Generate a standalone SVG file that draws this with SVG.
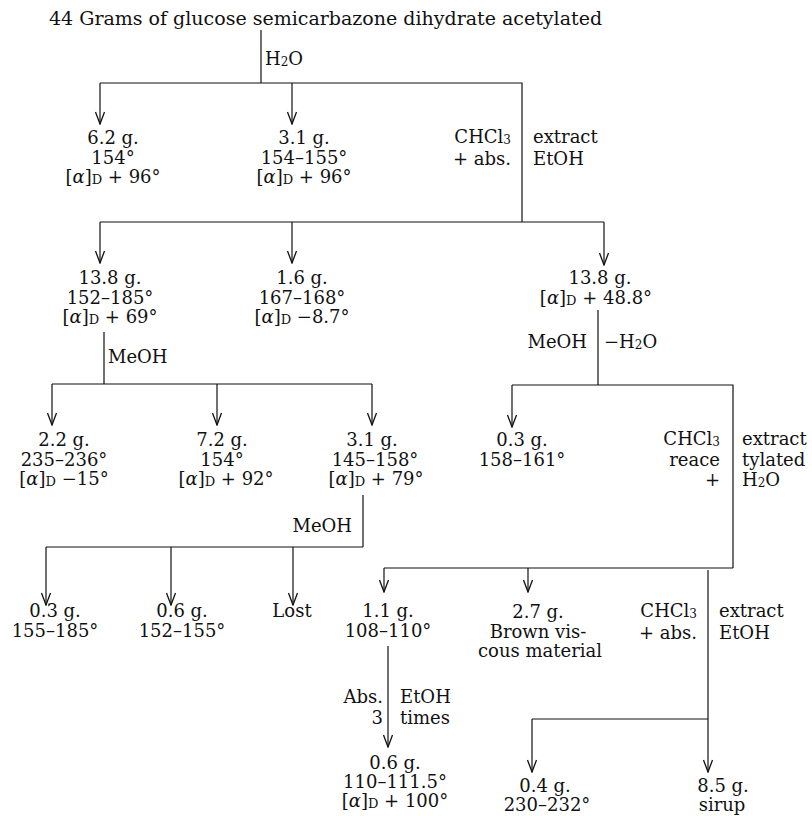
<svg xmlns="http://www.w3.org/2000/svg" width="812" height="816" viewBox="0 0 812 816">
<style>
text{font-family:"DejaVu Serif","Liberation Serif",serif;font-size:18px;fill:#111}
.c{text-anchor:middle}
.e{text-anchor:end}
.t{font-size:19px}
.s{font-size:12px}
.d{font-size:13px}
.i{font-style:italic}
.ln{stroke:#111;stroke-width:1.2;fill:none}
.ar{stroke:#111;stroke-width:1.2;fill:none;marker-end:url(#ah)}
</style>
<defs>
<marker id="ah" markerUnits="userSpaceOnUse" viewBox="-13 -6 14 12" refX="0" refY="0" markerWidth="14" markerHeight="12" orient="auto">
<path d="M-12,-4.5 L0,0 L-12,4.5" fill="none" stroke="#111" stroke-width="1.3"/>
</marker>
</defs>
<g id="title"><text class="t" x="49" y="25">44 Grams of glucose semicarbazone dihydrate acetylated</text></g>
<g id="connectors">
<path class="ln" d="M261,30 V83 M100,83 H522 V222 M100,222 H604"/>
<path class="ar" d="M100,83 V124"/>
<path class="ar" d="M292,83 V124"/>
<path class="ar" d="M100,222 V263"/>
<path class="ar" d="M292,222 V263"/>
<path class="ar" d="M604,222 V265"/>
<path class="ln" d="M104,332 V384 M52,384 H372"/>
<path class="ar" d="M52,384 V425"/>
<path class="ar" d="M217,384 V425"/>
<path class="ar" d="M372,384 V425"/>
<path class="ln" d="M598,310 V385 M512,385 H733 V568 M384,568 H733"/>
<path class="ar" d="M512,385 V427"/>
<path class="ln" d="M363,495 V547 M46,547 H363"/>
<path class="ar" d="M46,547 V605"/>
<path class="ar" d="M171,547 V605"/>
<path class="ar" d="M293,547 V605"/>
<path class="ar" d="M384,568 V592"/>
<path class="ar" d="M528,568 V592"/>
<path class="ar" d="M708,570 V772"/>
<path class="ar" d="M388,646 V747"/>
<path class="ln" d="M532,719 H708"/>
<path class="ar" d="M532,719 V772"/>
</g>
<g id="labels">
<text x="265" y="65">H<tspan class="s" dy="1">2</tspan><tspan dy="-1">O</tspan></text>
<text class="e" x="511" y="143">CHCl<tspan class="s" dy="1">3</tspan></text>
<text class="e" x="511" y="165">+ abs.</text>
<text x="533" y="143">extract</text>
<text x="533" y="165">EtOH</text>
<text x="108" y="363">MeOH</text>
<text class="e" x="587" y="348">MeOH</text>
<text x="604" y="348">−H<tspan class="s" dy="1">2</tspan><tspan dy="-1">O</tspan></text>
<text class="e" x="720" y="445">CHCl<tspan class="s" dy="1">3</tspan></text>
<text class="e" x="720" y="466">reace</text>
<text class="e" x="720" y="486">+</text>
<text x="742" y="445">extract</text>
<text x="742" y="466">tylated</text>
<text x="742" y="486">H<tspan class="s" dy="1">2</tspan><tspan dy="-1">O</tspan></text>
<text class="e" x="352" y="532">MeOH</text>
<text class="e" x="697" y="617">CHCl<tspan class="s" dy="1">3</tspan></text>
<text class="e" x="697" y="639">+ abs.</text>
<text x="719" y="617">extract</text>
<text x="719" y="639">EtOH</text>
<text class="e" x="383" y="703">Abs.</text>
<text class="e" x="383" y="724">3</text>
<text x="400" y="703">EtOH</text>
<text x="400" y="724">times</text>
</g>
<g id="n1"><text class="c" x="113" y="144">6.2 g.</text><text class="c" x="113" y="163.5">154°</text><text class="c" x="113" y="183">[<tspan class="i">α</tspan>]<tspan class="d" dy="1">D</tspan><tspan dy="-1"> + 96°</tspan></text></g>
<g id="n2"><text class="c" x="304" y="144">3.1 g.</text><text class="c" x="304" y="163.5">154–155°</text><text class="c" x="304" y="183">[<tspan class="i">α</tspan>]<tspan class="d" dy="1">D</tspan><tspan dy="-1"> + 96°</tspan></text></g>
<g id="n3"><text class="c" x="110" y="284">13.8 g.</text><text class="c" x="110" y="303.5">152–185°</text><text class="c" x="110" y="323">[<tspan class="i">α</tspan>]<tspan class="d" dy="1">D</tspan><tspan dy="-1"> + 69°</tspan></text></g>
<g id="n4"><text class="c" x="302" y="284">1.6 g.</text><text class="c" x="302" y="303.5">167–168°</text><text class="c" x="302" y="323">[<tspan class="i">α</tspan>]<tspan class="d" dy="1">D</tspan><tspan dy="-1"> −8.7°</tspan></text></g>
<g id="n5"><text class="c" x="600" y="284">13.8 g.</text><text class="c" x="596" y="303.5">[<tspan class="i">α</tspan>]<tspan class="d" dy="1">D</tspan><tspan dy="-1"> + 48.8°</tspan></text></g>
<g id="n6"><text class="c" x="64" y="446">2.2 g.</text><text class="c" x="64" y="465.5">235–236°</text><text class="c" x="64" y="485">[<tspan class="i">α</tspan>]<tspan class="d" dy="1">D</tspan><tspan dy="-1"> −15°</tspan></text></g>
<g id="n7"><text class="c" x="222" y="446">7.2 g.</text><text class="c" x="222" y="465.5">154°</text><text class="c" x="226" y="485">[<tspan class="i">α</tspan>]<tspan class="d" dy="1">D</tspan><tspan dy="-1"> + 92°</tspan></text></g>
<g id="n8"><text class="c" x="372" y="446">3.1 g.</text><text class="c" x="375" y="465.5">145–158°</text><text class="c" x="376" y="485">[<tspan class="i">α</tspan>]<tspan class="d" dy="1">D</tspan><tspan dy="-1"> + 79°</tspan></text></g>
<g id="n9"><text class="c" x="522" y="446">0.3 g.</text><text class="c" x="522" y="465.5">158–161°</text></g>
<g id="n10"><text class="c" x="55" y="617">0.3 g.</text><text class="c" x="55" y="636.5">155–185°</text></g>
<g id="n11"><text class="c" x="182" y="617">0.6 g.</text><text class="c" x="182" y="636.5">152–155°</text></g>
<g id="n12"><text class="c" x="292" y="617">Lost</text></g>
<g id="n13"><text class="c" x="388" y="617">1.1 g.</text><text class="c" x="388" y="636.5">108–110°</text></g>
<g id="n14"><text class="c" x="538" y="618">2.7 g.</text><text class="c" x="538" y="638">Brown vis-</text><text class="c" x="540" y="657">cous material</text></g>
<g id="n15"><text class="c" x="395" y="769">0.6 g.</text><text class="c" x="395" y="788">110–111.5°</text><text class="c" x="395" y="807">[<tspan class="i">α</tspan>]<tspan class="d" dy="1">D</tspan><tspan dy="-1"> + 100°</tspan></text></g>
<g id="n16"><text class="c" x="545" y="792">0.4 g.</text><text class="c" x="547" y="811">230–232°</text></g>
<g id="n17"><text class="c" x="723" y="792">8.5 g.</text><text class="c" x="722" y="811">sirup</text></g>
</svg>
